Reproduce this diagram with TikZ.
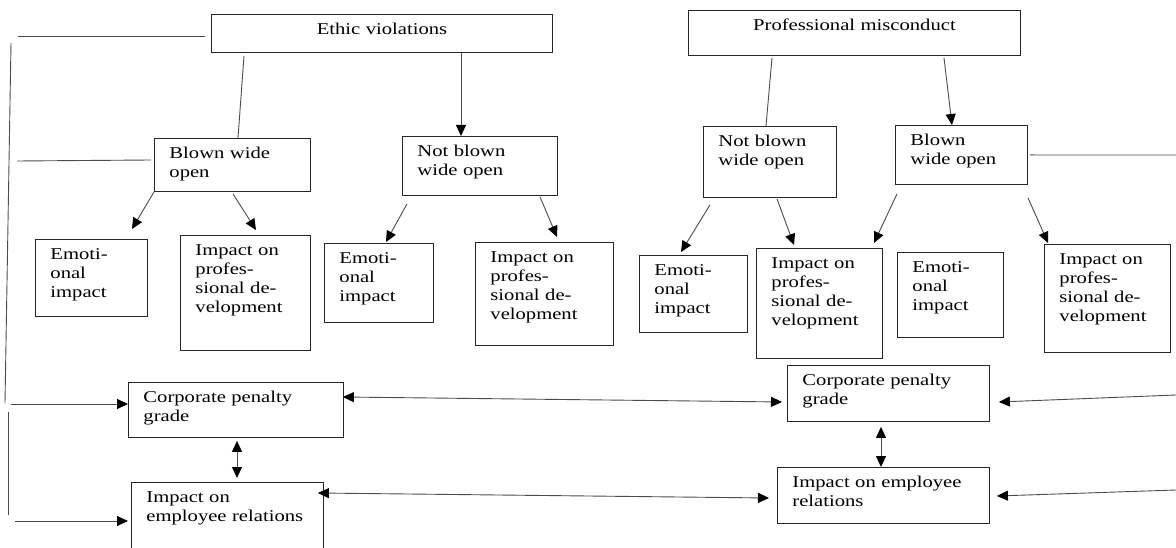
\documentclass[tikz,border=0pt]{standalone}
\usepackage{fontspec}
\setmainfont{Liberation Serif}[FakeStretch=1.25]
\usetikzlibrary{arrows.meta}
\begin{document}
\begin{tikzpicture}[x=1pt,y=-1pt,
		font=\fontsize{16.5}{19}\selectfont,
		box/.style 2 args={draw=black!85, line width=0.9pt, anchor=north west, inner xsep=15pt, inner ysep=0pt,
			align=left, text width=#1pt-30pt, text height=20pt, text depth=#2pt-20pt},
		ln/.style={draw=black!70, line width=0.9pt},
		arr/.style={ln, -{Triangle[length=11pt,width=10pt,color=black]}},
		darr/.style={ln, {Triangle[length=11pt,width=10pt,color=black]}-{Triangle[length=11pt,width=10pt,color=black]}}]
		\useasboundingbox (0,0) rectangle (1176,548);
		\node[box={341}{38}, align=center] (ethic) at (211,14) {Ethic violations};
		\node[box={332}{45}, align=center] (prof) at (688,10) {Professional misconduct};
		\node[box={156}{53}] (blownL) at (154,138) {Blown wide\\open};
		\node[box={155}{59}] (notblownL) at (402,136) {Not blown\\wide open};
		\node[box={133}{71}] (notblownR) at (703,126) {Not blown\\wide open};
		\node[box={132}{59}] (blownR) at (895,125) {Blown\\wide open};
		\node[box={112}{77}] (emoL1) at (35,239) {Emoti-\\onal\\impact};
		\node[box={130}{115}] (ipdL1) at (180,235) {Impact on\\profes-\\sional de-\\velopment};
		\node[box={109}{79}] (emoL2) at (324,243) {Emoti-\\onal\\impact};
		\node[box={138}{103}] (ipdL2) at (475,242) {Impact on\\profes-\\sional de-\\velopment};
		\node[box={108}{77}] (emoR1) at (639,255) {Emoti-\\onal\\impact};
		\node[box={126}{110}] (ipdR1) at (756,248) {Impact on\\profes-\\sional de-\\velopment};
		\node[box={106}{85}] (emoR2) at (897,252) {Emoti-\\onal\\impact};
		\node[box={126}{108}] (ipdR2) at (1044,244) {Impact on\\profes-\\sional de-\\velopment};
		\node[box={215}{55}] (cpgL) at (128,382) {Corporate penalty\\grade};
		\node[box={192}{80}] (ierL) at (131,482) {Impact on\\employee relations};
		\node[box={202}{56}] (cpgR) at (787,365) {Corporate penalty\\grade};
		\node[box={212}{56}] (ierR) at (777,467) {Impact on employee\\relations};
		\coordinate (t1) at (18,36);
		\coordinate (t2) at (17,161);
		\coordinate (a1) at (11,404);
		\coordinate (a2) at (15,521);
		\coordinate (r1) at (1176,155);
		\coordinate (r2) at (1176,395);
		\coordinate (r3) at (1176,490);
		\draw[ln] (11,43) -- (5,403);
		\draw[ln] (8,412) -- (8,515);
		\draw[ln] (t1) -- ([shift={(-6,22)}]ethic.north west);
		\draw[ln] (t2) -- ([shift={(-3,22)}]blownL.north west);
		\draw[arr] (a1) -- ([shift={(0,22)}]cpgL.north west);
		\draw[arr] (a2) -- ([shift={(-3,39)}]ierL.north west);
		\draw[ln] ([shift={(33,3)}]ethic.south west) -- ([shift={(84,0)}]blownL.north west);
		\draw[arr] ([shift={(250,0)}]ethic.south west) -- ([shift={(59,0)}]notblownL.north west);
		\draw[ln] ([shift={(84,2)}]prof.south west) -- ([shift={(63,0)}]notblownR.north west);
		\draw[arr] ([shift={(256,2)}]prof.south west) -- ([shift={(57,0)}]blownR.north west);
		\draw[ln] ([shift={(2,0)}]blownR.east) -- (r1);
		\draw[arr] ([shift={(0,0)}]blownL.south west) -- ([shift={(97,-10)}]emoL1.north west);
		\draw[arr] ([shift={(79,2)}]blownL.south west) -- ([shift={(76,-5)}]ipdL1.north west);
		\draw[arr] ([shift={(5,8)}]notblownL.south west) -- ([shift={(62,-1)}]emoL2.north west);
		\draw[arr] ([shift={(138,1)}]notblownL.south west) -- ([shift={(82,-5)}]ipdL2.north west);
		\draw[arr] ([shift={(7,7)}]notblownR.south west) -- ([shift={(42,-3)}]emoR1.north west);
		\draw[arr] ([shift={(74,1)}]notblownR.south west) -- ([shift={(38,-3)}]ipdR1.north west);
		\draw[arr] ([shift={(2,9)}]blownR.south west) -- ([shift={(118,-5)}]ipdR1.north west);
		\draw[arr] ([shift={(133,13)}]blownR.south west) -- ([shift={(4,-1)}]ipdR2.north west);
		\draw[darr] ([shift={(-1,15)}]cpgL.north east) -- ([shift={(-5,37)}]cpgR.north west);
		\draw[darr] ([shift={(-6,11)}]ierL.north east) -- ([shift={(-8,31)}]ierR.north west);
		\draw[arr] (r2) -- ([shift={(9,37)}]cpgR.north east);
		\draw[arr] (r3) -- ([shift={(7,29)}]ierR.north east);
		\draw[darr] ([shift={(109,3)}]cpgL.south west) -- ([shift={(106,-4)}]ierL.north west);
		\draw[darr] ([shift={(94,5)}]cpgR.south west) -- ([shift={(104,0)}]ierR.north west);
\end{tikzpicture}
\end{document}
